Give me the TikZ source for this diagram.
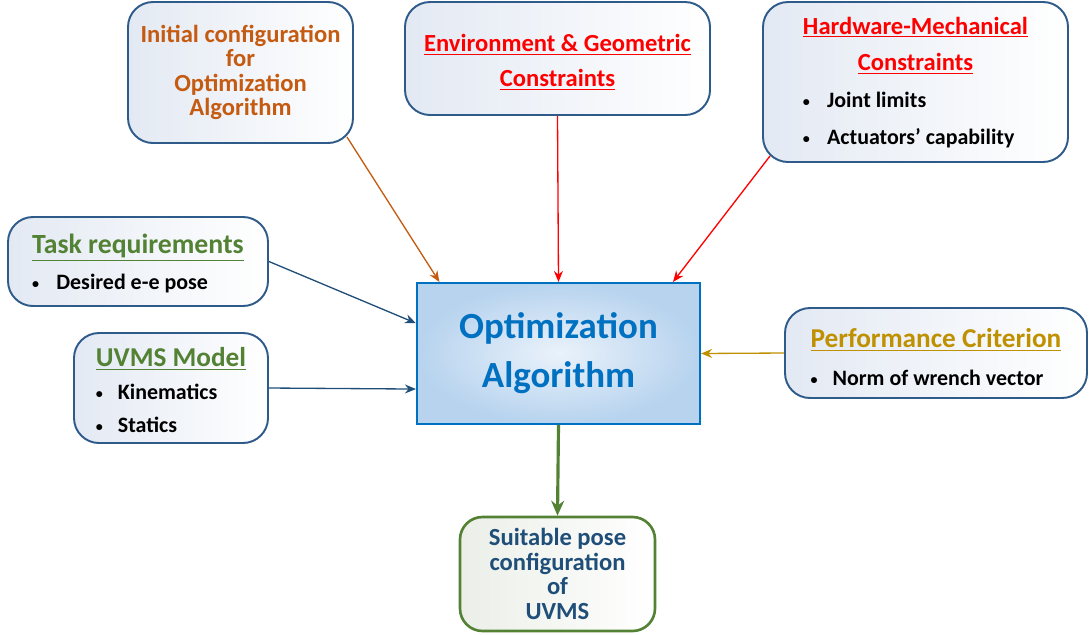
\documentclass[tikz,border=0pt]{standalone}
\usepackage{fontspec}
\setmainfont{Carlito}
\usepackage{tikz}
\usetikzlibrary{shapes.geometric, arrows.meta}
\definecolor{frameblue}{HTML}{2E5B8A}
\definecolor{optblue}{HTML}{0070C0}
\definecolor{optfill}{HTML}{B7D3EE}
\definecolor{optcenter}{HTML}{EAF2FB}
\definecolor{darkblue}{HTML}{1F4E79}
\definecolor{initorange}{HTML}{C55A11}
\definecolor{critgold}{HTML}{BF9000}
\definecolor{taskgreen}{HTML}{548235}
\definecolor{boxfill}{HTML}{E3E9F3}
\definecolor{outfill}{HTML}{EBEFE8}
\newcommand{\ttl}[2]{\textcolor{#1}{\underline{#2}}}
\newcommand{\itm}[2][1.1em]{{\fontsize{12.5}{15}\selectfont\makebox[#1][l]{\raisebox{0.12ex}{\fontsize{8}{8}\selectfont\textbullet}}#2}}
\newcommand{\boxtext}[1]{\begin{tabular}{@{}l@{}}#1\end{tabular}}
\tikzstyle{inbox} = [rectangle, rounded corners=0.5cm, draw=frameblue, line width=1.1pt, left color=boxfill, right color=white, inner ysep=0pt, font=\bfseries, align=center]
\tikzstyle{optbox} = [rectangle, draw=optblue, line width=1.2pt, inner color=optcenter, outer color=optfill, text=optblue, font=\bfseries\fontsize{21}{28}\selectfont, align=center]
\tikzstyle{outbox} = [rectangle, rounded corners=0.45cm, draw=taskgreen, line width=1.5pt, left color=outfill, right color=white, text=darkblue, font=\bfseries\fontsize{14}{14}\selectfont, align=center]
\tikzstyle{arrow} = [line width=0.75pt, -{Stealth[length=2.2mm, width=1.8mm]}]

\begin{document}
\begin{tikzpicture}[x=0.2mm, y=-0.2mm]
\useasboundingbox (0,0) rectangle (1091,634);
\node (opt) [optbox, minimum width=56.6mm, minimum height=28.2mm] at (558.5,353.5) {Optimization\\Algorithm};
\node (init) [inbox, minimum width=45mm, minimum height=28.2mm, text=initorange, font=\bfseries\fontsize{14}{13.9}\selectfont] at (240.5,72.5) {Initial configuration\\for\\Optimization\\Algorithm};
\node (env) [inbox, minimum width=61mm, minimum height=22.6mm, font=\bfseries\fontsize{14}{20}\selectfont] at (557.5,58.5) {\begin{tabular}{@{}c@{}}\rule{0pt}{18pt}\ttl{red}{Environment \& Geometric}\\ \ttl{red}{Constraints}\end{tabular}};
\node (hw) [inbox, minimum width=61mm, minimum height=32mm, font=\bfseries\fontsize{14}{21}\selectfont] at (915.5,82) {\boxtext{\multicolumn{1}{@{}c@{}}{\ttl{red}{Hardware-Mechanical}}\\ \multicolumn{1}{@{}c@{}}{\ttl{red}{Constraints}}\\ \itm[0.8em]{\hspace{0.3em}Joint limits}\\ \itm[0.8em]{\hspace{0.3em}Actuators’ capability}}};
\node (task) [inbox, minimum width=52mm, minimum height=17.8mm, font=\bfseries\fontsize{15.8}{20.4}\selectfont] at (138,261.5) {\boxtext{\rule{0pt}{17.7pt}\ttl{taskgreen}{Task requirements}\\ \itm{Desired e-e pose}}};
\node (uvms) [inbox, minimum width=38.8mm, minimum height=22mm, font=\bfseries\fontsize{15.5}{18.7}\selectfont] at (171,388) {\boxtext{\rule{0pt}{18.7pt}\ttl{taskgreen}{UVMS Model}\\ \itm[1em]{Kinematics}\\ \itm[1em]{Statics}}};
\node (perf) [inbox, minimum width=60.4mm, minimum height=18mm, font=\bfseries\fontsize{15.5}{22}\selectfont] at (936,353) {\boxtext{\rule{0pt}{22pt}\ttl{critgold}{Performance Criterion}\\ \itm[1em]{Norm of wrench vector}}};
\node (suit) [outbox, minimum width=39mm, minimum height=22.8mm] at (557.5,574) {Suitable pose\\configuration\\of\\UVMS};
\draw [arrow, initorange] ([shift={(-7,-7)}]init.south east) -- (opt.149);
\draw [arrow, red] (env.south) -- (opt.north);
\draw [arrow, red] ([shift={(8,-7)}]hw.south west) -- (opt.32);
\draw [arrow, darkblue] (task.east) -- (opt.168.6);
\draw [arrow, darkblue] (uvms.east) -- (opt.194);
\draw [arrow, critgold] (perf.west) -- (opt.east);
\draw [taskgreen, line width=1.8pt, -{Stealth[length=3mm, width=2.6mm]}] (opt.south) -- (suit.north);
\end{tikzpicture}
\end{document}
